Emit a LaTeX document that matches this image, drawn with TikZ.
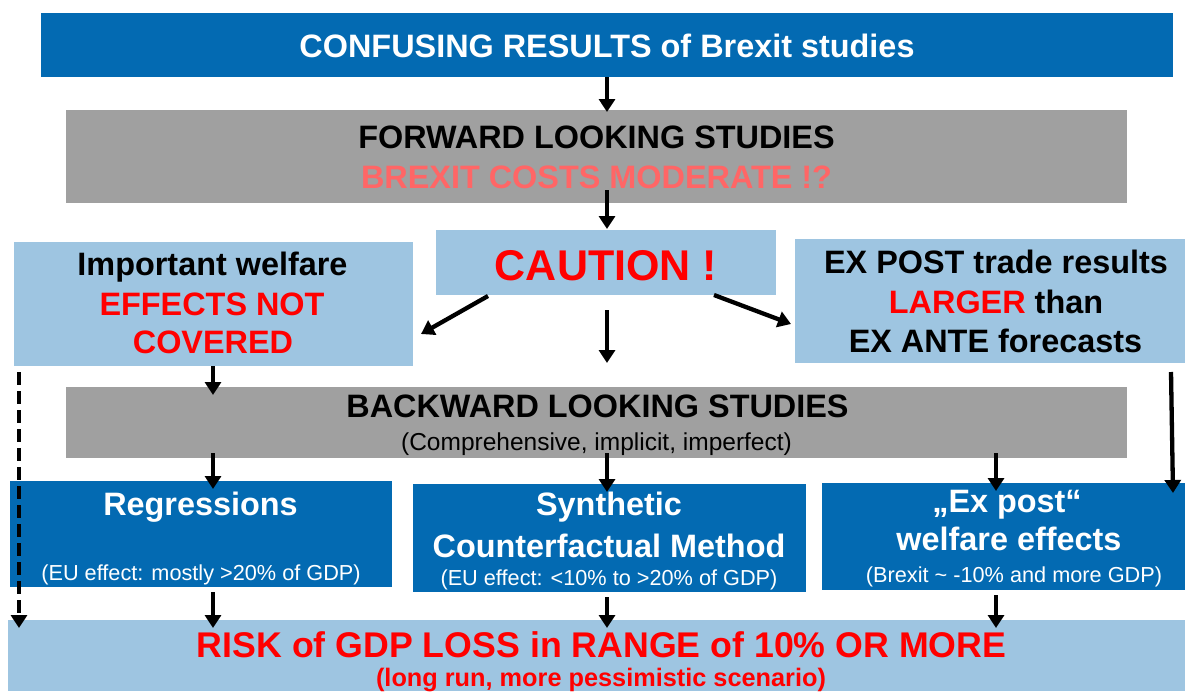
\documentclass[tikz,border=0pt]{standalone}
\usepackage{fontspec}
\setmainfont{Liberation Sans}
\usetikzlibrary{arrows.meta,calc}
\definecolor{bxblue}{RGB}{3,106,178}
\definecolor{bxlight}{RGB}{158,197,225}
\definecolor{bxgray}{RGB}{160,160,160}
\definecolor{bxsalmon}{RGB}{255,102,102}
\tikzset{
	box/.style={rectangle, inner sep=0pt, outer sep=0pt},
	bluebox/.style={box, fill=bxblue},
	lightbox/.style={box, fill=bxlight},
	greybox/.style={box, fill=bxgray},
	txt/.style={inner sep=0pt, anchor=base},
	bigtxt/.style={txt, font=\fontsize{32.4}{38}\selectfont\bfseries},
	subtxt/.style={txt, font=\fontsize{21.7}{26}\selectfont},
	arr/.style={line width=4.3pt, -{Triangle[length=13pt,width=16pt]}},
}
\begin{document}
\begin{tikzpicture}[x=1pt,y=-1pt]
		\useasboundingbox (0,0) rectangle (1185,691);
		% boxes
		\node[bluebox, minimum width=1132pt, minimum height=64pt] (title) at (607,45) {};
		\node[greybox, minimum width=1061pt, minimum height=93pt] (fwd) at (596.5,156.5) {};
		\node[lightbox, minimum width=340pt, minimum height=65pt] (caution) at (606,262.5) {};
		\node[lightbox, minimum width=399pt, minimum height=124pt] (welf) at (213.5,304) {};
		\node[lightbox, minimum width=390pt, minimum height=124pt] (post) at (990,301) {};
		\node[greybox, minimum width=1061pt, minimum height=71pt] (bwd) at (596.5,422.5) {};
		\node[bluebox, minimum width=382pt, minimum height=106pt] (reg) at (201,534) {};
		\node[bluebox, minimum width=393pt, minimum height=108pt] (syn) at (609.5,538) {};
		\node[bluebox, minimum width=363pt, minimum height=107pt] (expost) at (1003.5,536.5) {};
		\node[lightbox, minimum width=1177pt, minimum height=71pt] (risk) at (596.5,655.5) {};

		% texts
		\node[bigtxt, white] (titleT) at (607,57) {CONFUSING RESULTS of Brexit studies};
		\node[bigtxt] (fwdT) at (596.5,148) {FORWARD LOOKING STUDIES};
		\node[bigtxt, bxsalmon] (fwdS) at (596.5,188) {BREXIT COSTS MODERATE !?};
		\node[txt, red, font=\fontsize{43}{50}\selectfont\bfseries] (cautionT) at (606,280) {CAUTION !};
		\node[bigtxt] (welfA) at (212.5,275) {Important welfare};
		\node[bigtxt, red] (welfB) at (212,315) {EFFECTS NOT};
		\node[bigtxt, red] (welfC) at (213,353) {COVERED};
		\node[bigtxt] (postA) at (996,273) {EX POST trade results};
		\node[bigtxt] (postB) at (996,313) {\textcolor{red}{LARGER} than};
		\node[bigtxt] (postC) at (995.5,352) {EX ANTE forecasts};
		\node[bigtxt] (bwdT) at (597.5,417) {BACKWARD LOOKING STUDIES};
		\node[txt, font=\fontsize{24.5}{29}\selectfont] (bwdS) at (596.5,450) {(Comprehensive, implicit, imperfect)};
		\node[bigtxt, white] (regT) at (200.5,515) {Regressions};
		\node[subtxt, white] (regS) at (201,580) {(EU effect: mostly >20\% of GDP)};
		\node[bigtxt, white] (synA) at (609,515) {Synthetic};
		\node[bigtxt, white] (synB) at (609,557) {Counterfactual Method};
		\node[subtxt, white] (synS) at (609,585) {(EU effect: <10\% to >20\% of GDP)};
		\node[bigtxt, white] (expA) at (1007,512) {„Ex post“};
		\node[bigtxt, white] (expB) at (1009,550) {welfare effects};
		\node[subtxt, white] (expS) at (1014,582) {(Brexit \textasciitilde{} -10\% and more GDP)};
		\node[txt, red, font=\fontsize{35.7}{40}\selectfont\bfseries] (riskT) at (601.5,657) {RISK of GDP LOSS in RANGE of 10\% OR MORE};
		\node[txt, red, font=\fontsize{25.3}{30}\selectfont\bfseries] (riskS) at (601,686) {(long run, more pessimistic scenario)};

		% arrows
		\coordinate (colL) at (213,0);
		\coordinate (colM) at (607,0);
		\coordinate (colR) at (996,0);
		\coordinate (colD) at (19,0);
		\draw[arr] (title.south -| colM) -- ($(fwd.north -| colM)+(0,2)$);
		\draw[arr] ($(fwd.south -| colM)+(0,-13)$) -- ($(caution.north -| colM)+(0,-1)$);
		\draw[arr] ($(caution.south west)+(52,1)$) -- ($(welf.east)+(8,30)$);
		\draw[arr] ($(caution.south east)+(-62,0)$) -- ($(post.west)+(-4,23)$);
		\draw[arr] ($(caution.south -| colM)+(0,15)$) -- ($(bwd.north -| colM)+(0,-24)$);
		\draw[arr] (welf.south -| colL) -- ($(bwd.north -| colL)+(0,8)$);
		\draw[arr, dash pattern=on 13pt off 6pt] ($(welf.south -| colD)+(0,6)$) -- ($(risk.north -| colD)+(0,8)$);
		\draw[arr] ($(post.south east)+(-14,9)$) -- ($(expost.north east)+(-12,10)$);
		\foreach \c/\b in {colL/reg, colM/syn, colR/expost} {
			\draw[arr] ($(bwd.south -| \c)+(0,-5)$) -- ($(\b.north -| \c)+(0,8)$);
			\draw[arr] ($(\b.south -| \c)+(0,5)$) -- ($(risk.north -| \c)+(0,8)$);
		}
	\end{tikzpicture}
\end{document}
